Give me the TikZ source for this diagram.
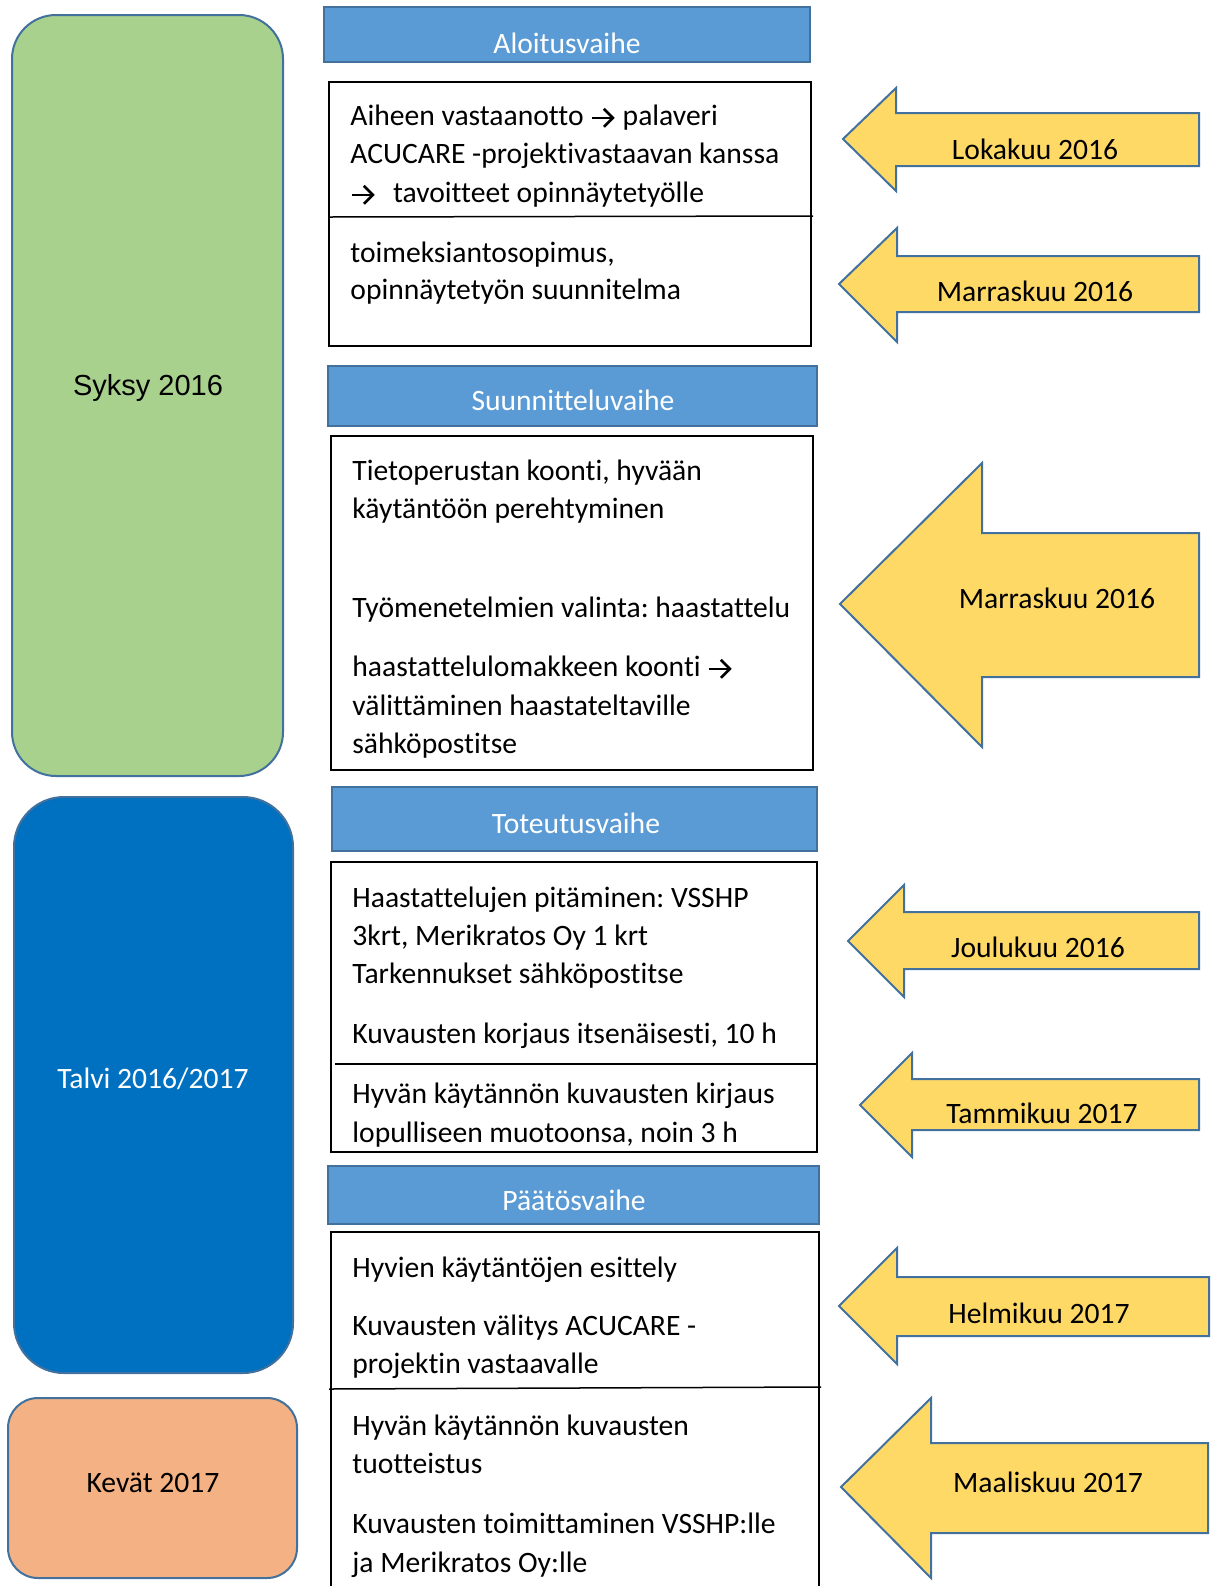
\documentclass[tikz,border=0pt]{standalone}
\usepackage{fontspec}
\usetikzlibrary{arrows.meta}
\setmainfont[Ligatures={NoCommon}]{Carlito}
\newfontfamily\arialf{Liberation Sans}
\newcommand\bodyfont{\fontsize{14.8}{19}\selectfont}
\definecolor{hblue}{HTML}{5B9BD5}
\definecolor{hborder}{HTML}{41719C}
\definecolor{sgreen}{HTML}{A9D18E}
\definecolor{sblue}{HTML}{0070C0}
\definecolor{sorange}{HTML}{F4B183}
\definecolor{ayellow}{HTML}{FFD966}
\definecolor{aborder}{HTML}{41719C}
\newcommand\larrowshape[8]{% tipx,tipy,headx,headtop,headbot,shafttop,shaftbot,right
  \draw[marrow] (#8,#6) -- (#3,#6) -- (#3,#4) -- (#1,#2) -- (#3,#5) -- (#3,#7) -- (#8,#7) -- cycle;}
\newcommand\rarr{\tikz[baseline=0pt]\draw[line width=1.3pt, line cap=butt, -{Straight Barb[length=4.5pt,width=9pt,line width=1.3pt]}] (0.5pt,3.6pt) -- (12pt,3.6pt);}
\frenchspacing
\begin{document}
\begin{tikzpicture}[x=0.5pt,y=-0.5pt,
  ln/.style={anchor=base west, inner sep=0pt, font=\bodyfont},
  hdrtxt/.style={anchor=base, inner sep=0pt, text=white, font=\bodyfont},
  hdr/.style={fill=hblue, draw=hborder, line width=1pt},
  tbox/.style={draw=black, line width=0.75pt},
  marrow/.style={fill=ayellow, draw=aborder, line width=1pt, line join=miter},
  season/.style={draw=hborder, line width=1pt},
  lbl/.style={anchor=base, inner sep=0pt, font=\bodyfont}]
\useasboundingbox (0,0) rectangle (1211,1586);
\fill[white] (0,0) rectangle (1211,1586);

% season boxes
\draw[season, fill=sgreen, rounded corners=22pt] (12,15) rectangle (283,776);
\node[anchor=base, inner sep=0pt, font=\arialf\fontsize{14.5}{17}\selectfont] (syksy) at (148,395) {Syksy 2016};
\draw[season, fill=sblue, rounded corners=25pt] (14,797) rectangle (293,1373);
\node[lbl, text=white] (talvi) at (153,1088) {Talvi 2016/2017};
\draw[season, fill=sorange, rounded corners=15pt] (8,1398) rectangle (297,1578);
\node[lbl] (kevat) at (153,1492) {Kevät 2017};

% headers
\draw[hdr] (324,7) rectangle (810,62);
\node[hdrtxt] (h1) at (567,53) {Aloitusvaihe};
\draw[hdr] (328,366) rectangle (817,426);
\node[hdrtxt] (h2) at (573,410) {Suunnitteluvaihe};
\draw[hdr] (332,787) rectangle (817,851);
\node[hdrtxt] (h3) at (576,833) {Toteutusvaihe};
\draw[hdr] (328,1166) rectangle (819,1224);
\node[hdrtxt] (h4) at (574,1210) {Päätösvaihe};

% box 1
\draw[tbox] (329,82) rectangle (811,346);
\draw[tbox] (329,217) -- (813,216);
\node[ln] (b1a) at (350,125) {Aiheen vastaanotto \rarr{} palaveri};
\node[ln] (b1b) at (350,163) {ACUCARE -projektivastaavan kanssa};
\node[ln] (b1c) at (350,202) {\rarr\hspace{8.5pt}tavoitteet opinnäytetyölle};
\node[ln] (b1d) at (350,262) {toimeksiantosopimus,};
\node[ln] (b1e) at (350,299) {opinnäytetyön suunnitelma};

% box 2
\draw[tbox] (331,436) rectangle (813,770);
\node[ln] (b2a) at (352,480) {Tietoperustan koonti, hyvään};
\node[ln] (b2b) at (352,518) {käytäntöön perehtyminen};
\node[ln] (b2c) at (352,617) {Työmenetelmien valinta: haastattelu};
\node[ln] (b2d) at (352,676) {haastattelulomakkeen koonti \rarr};
\node[ln] (b2e) at (352,715) {välittäminen haastateltaville};
\node[ln] (b2f) at (352,753) {sähköpostitse};

% box 3
\draw[tbox] (331,862) rectangle (817,1152);
\draw[tbox] (335,1064) -- (817,1064);
\node[ln] (b3a) at (352,907) {Haastattelujen pitäminen: VSSHP};
\node[ln] (b3b) at (352,945) {3krt, Merikratos Oy 1 krt};
\node[ln] (b3c) at (352,983) {Tarkennukset sähköpostitse};
\node[ln] (b3d) at (352,1043) {Kuvausten korjaus itsenäisesti, 10 h};
\node[ln] (b3e) at (352,1103) {Hyvän käytännön kuvausten kirjaus};
\node[ln] (b3f) at (352,1142) {lopulliseen muotoonsa, noin 3 h};

% box 4
\draw[tbox] (331,1600) -- (331,1232) -- (819,1232) -- (819,1600);
\draw[tbox] (329,1389) -- (821,1387);
\node[ln] (b4a) at (352,1277) {Hyvien käytäntöjen esittely};
\node[ln] (b4b) at (352,1335) {Kuvausten välitys ACUCARE -};
\node[ln] (b4c) at (352,1373) {projektin vastaavalle};
\node[ln] (b4d) at (352,1435) {Hyvän käytännön kuvausten};
\node[ln] (b4e) at (352,1473) {tuotteistus};
\node[ln] (b4f) at (352,1533) {Kuvausten toimittaminen VSSHP:lle};
\node[ln] (b4g) at (352,1572) {ja Merikratos Oy:lle};

% month arrows
\larrowshape{843}{139}{896}{88}{191}{113}{166}{1199}
\node[lbl] (m1) at (1035,159) {Lokakuu 2016};
\larrowshape{839}{284}{897}{228}{342}{256}{312}{1199}
\node[lbl] (m2) at (1035,301) {Marraskuu 2016};
\larrowshape{840}{604}{982}{463}{747}{533}{677}{1199}
\node[lbl] (m3) at (1057,608) {Marraskuu 2016};
\larrowshape{848}{941}{904}{885}{997}{912}{969}{1199}
\node[lbl] (m4) at (1038,957) {Joulukuu 2016};
\larrowshape{860}{1105}{912}{1053}{1157}{1079}{1130}{1199}
\node[lbl] (m5) at (1042,1123) {Tammikuu 2017};
\larrowshape{839}{1306}{897}{1248}{1364}{1277}{1336}{1209}
\node[lbl] (m6) at (1039,1323) {Helmikuu 2017};
\larrowshape{841}{1487}{931}{1398}{1578}{1443}{1533}{1208}
\node[lbl] (m7) at (1048,1492) {Maaliskuu 2017};
\end{tikzpicture}
\end{document}
